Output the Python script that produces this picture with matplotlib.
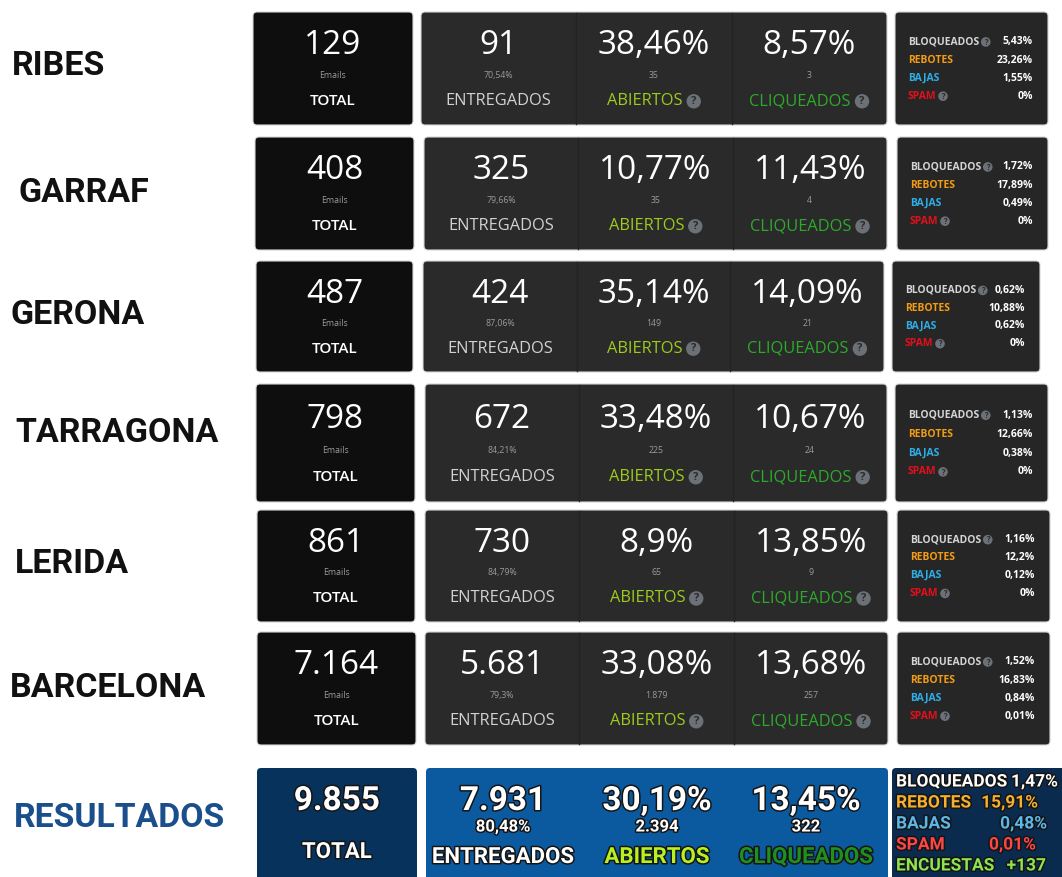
import matplotlib
matplotlib.use("Agg")
import matplotlib.pyplot as plt
import matplotlib.patheffects as pe
from matplotlib.patches import FancyBboxPatch, Circle

# ---- data ----
REGIONS = ["RIBES", "GARRAF", "GERONA", "TARRAGONA", "LERIDA", "BARCELONA"]
TOTAL = [129, 408, 487, 798, 861, 7164]
ENTREGADOS = [91, 325, 424, 672, 730, 5681]
ENTREGADOS_PCT = [70.54, 79.66, 87.06, 84.21, 84.79, 79.3]
ABIERTOS_PCT = [38.46, 10.77, 35.14, 33.48, 8.9, 33.08]
ABIERTOS_N = [35, 35, 149, 225, 65, 1879]
CLICS_PCT = [8.57, 11.43, 14.09, 10.67, 13.85, 13.68]
CLICS_N = [3, 4, 21, 24, 9, 257]
BLOQUEADOS = [5.43, 1.72, 0.62, 1.13, 1.16, 1.52]
REBOTES = [23.26, 17.89, 10.88, 12.66, 12.2, 16.83]
BAJAS = [1.55, 0.49, 0.62, 0.38, 0.12, 0.84]
SPAM = [0, 0, 0, 0, 0, 0.01]

RES_LABEL = "RESULTADOS"
RES_TOTAL = 9855
RES_ENTREGADOS, RES_ENTREGADOS_PCT = 7931, 80.48
RES_ABIERTOS_PCT, RES_ABIERTOS_N = 30.19, 2394
RES_CLICS_PCT, RES_CLICS_N = 13.45, 322
RES_SIDE = [("BLOQUEADOS", 1.47), ("REBOTES", 15.91), ("BAJAS", 0.48),
            ("SPAM", 0.01), ("ENCUESTAS", 137)]

# ---- layout (pixel coords) ----
# top, bottom, total x0/x1, main x0/x1, side x0/x1, label x, label y
BOXES = [
    (12, 125, 253, 413, 421, 887, 895, 1048, 12, 66),
    (137, 250, 255, 414, 424, 887, 897, 1048, 18, 193),
    (261, 372, 256, 413, 423, 884, 892, 1040, 10, 315),
    (384, 502, 256, 415, 425, 887, 895, 1048, 15, 433),
    (510, 622, 257, 415, 425, 888, 897, 1050, 15, 564),
    (632, 745, 257, 416, 425, 888, 897, 1050, 10, 688),
]
W, H = 1062, 877
DASH = "Open Sans"
HEAD = "Roboto"
ABI_C, CLI_C = "#9ccc1c", "#2eaa2a"
SIDE_C = {"BLOQUEADOS": "#d4d4d4", "REBOTES": "#f39c12", "BAJAS": "#2eaee6",
          "SPAM": "#e3101c"}
ICON = "#6b7177"


def fmt_int(n):
    return f"{n:,}".replace(",", ".")


def fmt_pct(v):
    s = f"{v:.2f}".rstrip("0").rstrip(".")
    return s.replace(".", ",") + "%"


fig = plt.figure(figsize=(W / 100, H / 100), dpi=100)
ax = fig.add_axes([0, 0, 1, 1])
ax.set_xlim(0, W); ax.set_ylim(H, 0); ax.axis("off")
R = fig.canvas.get_renderer()


def panel(x0, x1, y0, y1, fc, ec="#d6d6d6"):
    ax.add_patch(FancyBboxPatch((x0, y0), x1 - x0, y1 - y0,
                 boxstyle="round,pad=0,rounding_size=4", fc=fc, ec=ec, lw=0.8))


def width(t):
    return t.get_window_extent(renderer=R).width


def icon(x, y, r, fs):
    ax.add_patch(Circle((x, y), r, fc=ICON, ec="none"))
    ax.text(x, y + 0.3, "?", ha="center", va="center", fontsize=fs,
            color="#2a2a2a", fontweight="bold", family=DASH)


def label_icon(cx, y, txt, color, fs=11.8, r=7.2):
    t = ax.text(0, y, txt, ha="left", va="center", fontsize=fs, color=color,
                family=DASH)
    w = width(t); gap = 4
    x0 = cx - (w + gap + 2 * r) / 2
    t.set_x(x0)
    icon(x0 + w + gap + r, y, r, 8)


for i, name in enumerate(REGIONS):
    top, bot, tx0, tx1, mx0, mx1, sx0, sx1, lx, ly = BOXES[i]
    h = bot - top
    yb, ys, yl = top + 0.30 * h, top + 0.56 * h, top + 0.79 * h

    ax.text(lx, ly, name, ha="left", va="center", fontsize=24.5,
            fontweight="bold", color="#111111", family=HEAD)

    # total box
    panel(tx0, tx1, top, bot, "#0e0e0e")
    tc = (tx0 + tx1) / 2
    ax.text(tc, yb, fmt_int(TOTAL[i]), ha="center", va="center", fontsize=24,
            color="white", family=DASH)
    ax.text(tc, ys, "Emails", ha="center", va="center", fontsize=6.3,
            color="#9a9a9a", family=DASH)
    ax.text(tc, yl, "TOTAL", ha="center", va="center", fontsize=11,
            color="white", family=DASH, fontweight="semibold")

    # main box with three columns
    panel(mx0, mx1, top, bot, "#2a2a2a")
    cw = (mx1 - mx0) / 3
    for k in (1, 2):
        ax.plot([mx0 + k * cw] * 2, [top + 1, bot - 1], color="#232323", lw=1)
    cols = [(fmt_int(ENTREGADOS[i]), fmt_pct(ENTREGADOS_PCT[i])),
            (fmt_pct(ABIERTOS_PCT[i]), fmt_int(ABIERTOS_N[i])),
            (fmt_pct(CLICS_PCT[i]), fmt_int(CLICS_N[i]))]
    for k, (big, small) in enumerate(cols):
        cx = mx0 + (k + 0.5) * cw
        ax.text(cx, yb, big, ha="center", va="center", fontsize=24,
                color="white", family=DASH)
        ax.text(cx, ys, small, ha="center", va="center", fontsize=6.3,
                color="#9a9a9a", family=DASH)
    ax.text(mx0 + 0.5 * cw, yl, "ENTREGADOS", ha="center", va="center",
            fontsize=11.8, color="#d2d2d2", family=DASH)
    label_icon(mx0 + 1.5 * cw, yl, "ABIERTOS", ABI_C)
    label_icon(mx0 + 2.5 * cw, yl, "CLIQUEADOS", CLI_C)

    # side box
    panel(sx0, sx1, top, bot, "#262626")
    vals = [BLOQUEADOS[i], REBOTES[i], BAJAS[i], SPAM[i]]
    for j, (lab, v) in enumerate(zip(["BLOQUEADOS", "REBOTES", "BAJAS", "SPAM"], vals)):
        y = top + (0.265 + 0.16 * j) * h
        t = ax.text(sx0 + 13, y, lab, ha="left", va="center", fontsize=7.5,
                    fontweight="bold", color=SIDE_C[lab], family=DASH)
        if lab in ("BLOQUEADOS", "SPAM"):
            icon(sx0 + 13 + width(t) + 6.5, y, 4.8, 5.5)
        ax.text(sx1 - 15, y, fmt_pct(v), ha="right", va="center", fontsize=7.5,
                fontweight="bold", color="white", family=DASH)

# ---- totals row ----
stroke = [pe.withStroke(linewidth=2.2, foreground="#151515")]
top = 768
ax.text(14, 818, RES_LABEL, ha="left", va="center", fontsize=24.3,
        fontweight="bold", color="#1b4f8c", family=HEAD)
panel(257, 417, top, H + 10, "#07325c", ec="none")
panel(426, 888, top, H + 10, "#0b5aa0", ec="none")
panel(892, W + 10, top, H + 10, "#0a2b4e", ec="none")


def rtext(x, y, s, fs, color="white", ha="center"):
    ax.text(x, y, s, ha=ha, va="center", fontsize=fs, color=color,
            fontweight="bold", family=HEAD, path_effects=stroke)


rtext(337, 801, fmt_int(RES_TOTAL), 24)
rtext(337, 852, "TOTAL", 16)
res_cols = [(fmt_int(RES_ENTREGADOS), fmt_pct(RES_ENTREGADOS_PCT), "ENTREGADOS", "white"),
            (fmt_pct(RES_ABIERTOS_PCT), fmt_int(RES_ABIERTOS_N), "ABIERTOS", "#b8f020"),
            (fmt_pct(RES_CLICS_PCT), fmt_int(RES_CLICS_N), "CLIQUEADOS", "#1f8f1f")]
for k, (big, small, lab, c) in enumerate(res_cols):
    cx = [503, 657, 806][k]
    rtext(cx, 801, big, 24)
    rtext(cx, 827, small, 12)
    rtext(cx, 857, lab, 16, color=c)

side_cols = ["white", "#f7b02e", "#5ab8ea", "#ff4646", "#8ee44e"]
side_vx = [1058, 1038, 1047, 1036, 1046]
for j, (lab, v) in enumerate(RES_SIDE):
    y = 782 + 21 * j
    vs = f"+{v}" if lab == "ENCUESTAS" else fmt_pct(v)
    rtext(896, y, lab, 12.5, color=side_cols[j], ha="left")
    rtext(side_vx[j], y, vs, 12.5, color=side_cols[j], ha="right")

fig.savefig("out.png", dpi=100)
